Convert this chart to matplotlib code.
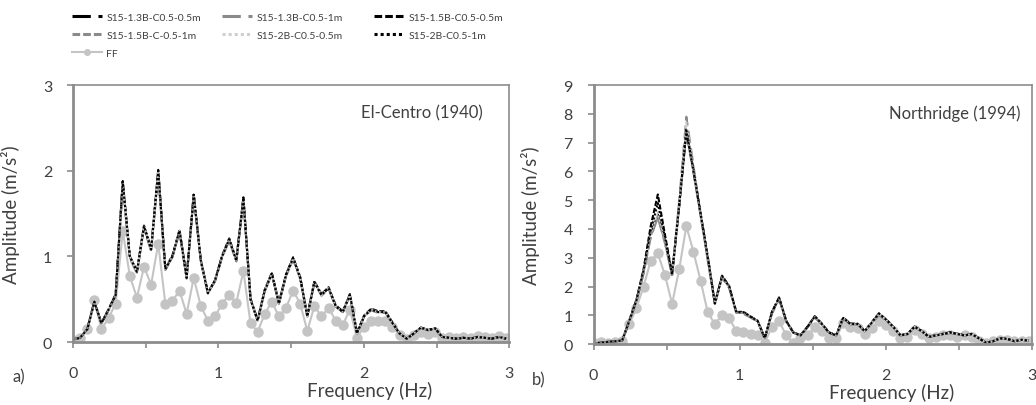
import numpy as np
import matplotlib
matplotlib.use("Agg")
import matplotlib.pyplot as plt
from matplotlib.lines import Line2D

plt.rcParams["font.family"] = ["Lato", "DejaVu Sans"]

# frequency step of the spectra (Hz), 62 samples from 0 to ~3 Hz
DF = 1 / 20.48
N = 62

SERIES = ["S15-1.3B-C0.5-0.5m", "S15-1.3B-C0.5-1m", "S15-1.5B-C0.5-0.5m",
          "S15-1.5B-C-0.5-1m", "S15-2B-C0.5-0.5m", "S15-2B-C0.5-1m"]

# El-Centro (1940)
ec_s1 = [0.03, 0.05, 0.15, 0.47, 0.22, 0.38, 0.55, 1.87, 1.00, 0.82, 1.35, 1.08, 2.00, 0.85,
         1.00, 1.30, 0.75, 1.72, 0.95, 0.57, 0.72, 1.00, 1.20, 0.95, 1.68, 0.50, 0.25, 0.60,
         0.80, 0.45, 0.78, 0.98, 0.75, 0.30, 0.70, 0.55, 0.63, 0.42, 0.35, 0.55, 0.10, 0.30,
         0.38, 0.35, 0.35, 0.22, 0.10, 0.04, 0.10, 0.17, 0.14, 0.16, 0.06, 0.05, 0.04, 0.05,
         0.04, 0.06, 0.05, 0.04, 0.06, 0.04]
ec_s2 = [0.03, 0.05, 0.15, 0.46, 0.22, 0.37, 0.55, 1.82, 0.98, 0.80, 1.33, 1.06, 1.95, 0.84,
         0.99, 1.28, 0.74, 1.70, 0.94, 0.57, 0.71, 0.99, 1.18, 0.94, 1.65, 0.50, 0.25, 0.59,
         0.79, 0.45, 0.77, 0.96, 0.74, 0.30, 0.69, 0.54, 0.62, 0.41, 0.35, 0.54, 0.10, 0.30,
         0.37, 0.34, 0.34, 0.22, 0.10, 0.04, 0.10, 0.16, 0.14, 0.15, 0.06, 0.05, 0.04, 0.05,
         0.04, 0.06, 0.05, 0.04, 0.06, 0.04]
ec_s3 = [0.03, 0.05, 0.15, 0.47, 0.22, 0.38, 0.56, 1.88, 1.00, 0.83, 1.36, 1.09, 2.01, 0.86,
         1.01, 1.31, 0.76, 1.73, 0.96, 0.58, 0.72, 1.01, 1.21, 0.96, 1.69, 0.51, 0.26, 0.61,
         0.81, 0.46, 0.79, 0.99, 0.76, 0.31, 0.71, 0.56, 0.64, 0.43, 0.36, 0.56, 0.11, 0.31,
         0.39, 0.36, 0.36, 0.23, 0.10, 0.04, 0.10, 0.17, 0.14, 0.16, 0.06, 0.05, 0.04, 0.05,
         0.04, 0.06, 0.05, 0.04, 0.06, 0.04]
ec_s4 = [0.03, 0.05, 0.15, 0.46, 0.22, 0.37, 0.55, 1.84, 0.99, 0.81, 1.34, 1.07, 1.97, 0.84,
         1.00, 1.29, 0.75, 1.71, 0.95, 0.57, 0.71, 1.00, 1.19, 0.95, 1.66, 0.50, 0.25, 0.60,
         0.80, 0.45, 0.77, 0.97, 0.75, 0.30, 0.70, 0.55, 0.63, 0.42, 0.35, 0.55, 0.10, 0.30,
         0.38, 0.35, 0.35, 0.22, 0.10, 0.04, 0.10, 0.17, 0.14, 0.16, 0.06, 0.05, 0.04, 0.05,
         0.04, 0.06, 0.05, 0.04, 0.06, 0.04]
ec_s5 = [0.03, 0.05, 0.15, 0.47, 0.22, 0.38, 0.56, 1.86, 1.00, 0.82, 1.35, 1.08, 1.99, 0.85,
         1.00, 1.30, 0.75, 1.72, 0.95, 0.57, 0.72, 1.00, 1.20, 0.95, 1.67, 0.50, 0.25, 0.60,
         0.80, 0.45, 0.78, 0.98, 0.75, 0.30, 0.70, 0.55, 0.63, 0.42, 0.35, 0.55, 0.10, 0.30,
         0.38, 0.35, 0.35, 0.22, 0.10, 0.04, 0.10, 0.17, 0.14, 0.16, 0.06, 0.05, 0.04, 0.05,
         0.04, 0.06, 0.05, 0.04, 0.06, 0.04]
ec_s6 = [0.03, 0.05, 0.15, 0.47, 0.22, 0.38, 0.55, 1.87, 1.00, 0.82, 1.35, 1.08, 2.00, 0.85,
         1.00, 1.30, 0.75, 1.72, 0.95, 0.57, 0.72, 1.00, 1.20, 0.95, 1.68, 0.50, 0.25, 0.60,
         0.80, 0.45, 0.78, 0.98, 0.75, 0.30, 0.70, 0.55, 0.63, 0.42, 0.35, 0.55, 0.10, 0.30,
         0.38, 0.35, 0.35, 0.22, 0.10, 0.04, 0.10, 0.17, 0.14, 0.16, 0.06, 0.05, 0.04, 0.05,
         0.04, 0.06, 0.05, 0.04, 0.06, 0.04]
ec_ff = [0.03, 0.05, 0.15, 0.49, 0.15, 0.28, 0.45, 1.30, 0.77, 0.52, 0.88, 0.67, 1.15, 0.45,
         0.48, 0.60, 0.33, 0.75, 0.42, 0.25, 0.30, 0.45, 0.55, 0.46, 0.83, 0.22, 0.12, 0.33,
         0.47, 0.30, 0.40, 0.60, 0.45, 0.13, 0.42, 0.30, 0.40, 0.25, 0.20, 0.38, 0.05, 0.18,
         0.25, 0.25, 0.25, 0.18, 0.08, 0.04, 0.08, 0.12, 0.10, 0.12, 0.05, 0.06, 0.05, 0.06,
         0.05, 0.07, 0.06, 0.05, 0.07, 0.05]

# Northridge (1994)
nr_s1 = [0.02, 0.05, 0.08, 0.10, 0.12, 0.80, 1.50, 2.50, 3.80, 4.50, 3.60, 2.40, 4.80, 7.40,
         6.00, 4.50, 3.00, 1.40, 2.35, 2.00, 1.10, 1.10, 0.95, 0.80, 0.20, 1.10, 1.60, 0.80,
         0.40, 0.30, 0.60, 0.95, 0.70, 0.40, 0.30, 0.90, 0.70, 0.70, 0.45, 0.75, 1.05, 0.85,
         0.60, 0.30, 0.35, 0.60, 0.45, 0.25, 0.30, 0.35, 0.40, 0.35, 0.30, 0.35, 0.20, 0.05,
         0.10, 0.20, 0.18, 0.10, 0.15, 0.12]
nr_s2 = [0.02, 0.05, 0.08, 0.10, 0.12, 0.80, 1.45, 2.45, 3.70, 4.40, 3.50, 2.40, 5.00, 7.90,
         6.20, 4.50, 2.90, 1.40, 2.30, 1.95, 1.10, 1.05, 0.92, 0.78, 0.20, 1.05, 1.55, 0.78,
         0.40, 0.30, 0.58, 0.92, 0.68, 0.40, 0.30, 0.88, 0.68, 0.68, 0.44, 0.72, 1.00, 0.82,
         0.58, 0.30, 0.34, 0.58, 0.44, 0.25, 0.30, 0.34, 0.38, 0.34, 0.30, 0.34, 0.20, 0.05,
         0.10, 0.20, 0.17, 0.10, 0.15, 0.12]
nr_s3 = [0.02, 0.05, 0.08, 0.10, 0.12, 0.82, 1.55, 2.60, 4.10, 5.20, 3.80, 2.45, 4.85, 7.45,
         6.05, 4.55, 3.05, 1.42, 2.38, 2.02, 1.12, 1.12, 0.96, 0.81, 0.21, 1.12, 1.62, 0.81,
         0.41, 0.31, 0.61, 0.97, 0.71, 0.41, 0.31, 0.92, 0.71, 0.71, 0.46, 0.76, 1.07, 0.86,
         0.61, 0.31, 0.36, 0.61, 0.46, 0.26, 0.31, 0.36, 0.41, 0.36, 0.31, 0.36, 0.21, 0.05,
         0.10, 0.21, 0.18, 0.10, 0.15, 0.12]
nr_s4 = [0.02, 0.05, 0.08, 0.10, 0.12, 0.80, 1.48, 2.48, 3.75, 4.45, 3.55, 2.40, 4.80, 7.35,
         5.95, 4.45, 2.95, 1.40, 2.32, 1.98, 1.10, 1.08, 0.94, 0.79, 0.20, 1.08, 1.58, 0.79,
         0.40, 0.30, 0.59, 0.94, 0.69, 0.40, 0.30, 0.89, 0.69, 0.69, 0.45, 0.74, 1.03, 0.84,
         0.59, 0.30, 0.35, 0.59, 0.45, 0.25, 0.30, 0.35, 0.39, 0.35, 0.30, 0.35, 0.20, 0.05,
         0.10, 0.20, 0.18, 0.10, 0.15, 0.12]
nr_s5 = [0.02, 0.05, 0.08, 0.10, 0.12, 0.80, 1.50, 2.50, 3.85, 4.60, 3.60, 2.40, 4.90, 7.70,
         6.10, 4.50, 3.00, 1.40, 2.35, 2.00, 1.10, 1.10, 0.95, 0.80, 0.20, 1.10, 1.60, 0.80,
         0.40, 0.30, 0.60, 0.95, 0.70, 0.40, 0.30, 0.90, 0.70, 0.70, 0.45, 0.75, 1.05, 0.85,
         0.60, 0.30, 0.35, 0.60, 0.45, 0.25, 0.30, 0.35, 0.40, 0.35, 0.30, 0.35, 0.20, 0.05,
         0.10, 0.20, 0.18, 0.10, 0.15, 0.12]
nr_s6 = [0.02, 0.05, 0.08, 0.10, 0.12, 0.81, 1.52, 2.55, 3.95, 4.90, 3.70, 2.42, 4.82, 7.42,
         6.02, 4.52, 3.02, 1.41, 2.36, 2.01, 1.11, 1.11, 0.95, 0.80, 0.20, 1.11, 1.61, 0.80,
         0.40, 0.30, 0.60, 0.96, 0.70, 0.40, 0.30, 0.91, 0.70, 0.70, 0.45, 0.75, 1.06, 0.85,
         0.60, 0.30, 0.35, 0.60, 0.45, 0.25, 0.30, 0.35, 0.40, 0.35, 0.30, 0.35, 0.20, 0.05,
         0.10, 0.20, 0.18, 0.10, 0.15, 0.12]
nr_ff = [0.05, 0.06, 0.05, 0.08, 0.10, 0.70, 1.25, 2.00, 2.90, 3.15, 2.40, 1.40, 2.60, 4.10,
         3.20, 2.20, 1.10, 0.70, 1.00, 0.90, 0.45, 0.42, 0.35, 0.30, 0.05, 0.60, 0.80, 0.30,
         0.05, 0.20, 0.30, 0.60, 0.45, 0.20, 0.20, 0.75, 0.60, 0.55, 0.35, 0.55, 0.80, 0.65,
         0.45, 0.20, 0.25, 0.50, 0.35, 0.20, 0.25, 0.30, 0.30, 0.25, 0.30, 0.25, 0.10, 0.05,
         0.10, 0.15, 0.15, 0.10, 0.12, 0.10]

freq = np.arange(N) * DF

STYLES = [
    dict(color="black", ls=(0, (6, 2.5)), lw=1.5),
    dict(color="#8a8a8a", ls=(0, (6, 2.5)), lw=1.5),
    dict(color="black", ls=(0, (2.5, 1)), lw=1.5),
    dict(color="#8a8a8a", ls=(0, (2.5, 1)), lw=1.5),
    dict(color="#cfcfcf", ls=(0, (1, 1)), lw=1.5),
    dict(color="black", ls=(0, (1, 1)), lw=1.5),
]
FF_STYLE = dict(color="#c4c4c4", lw=1.5, marker="o", ms=6.5, mec="#c4c4c4", mfc="#c4c4c4")
TXT = "#404040"
SPINE = "#8c8c8c"

fig = plt.figure(figsize=(10.36, 4.06), dpi=100)
ax1 = fig.add_axes([0.0705, 0.155, 0.421, 0.633])
ax2 = fig.add_axes([0.573, 0.150, 0.423, 0.638])

panels = [
    (ax1, [ec_s1, ec_s2, ec_s3, ec_s4, ec_s5, ec_s6], ec_ff, 3, "El-Centro (1940)", "a)", 0.94),
    (ax2, [nr_s1, nr_s2, nr_s3, nr_s4, nr_s5, nr_s6], nr_ff, 9, "Northridge (1994)", "b)", 0.973),
]
for ax, series, ff, ymax, title, tag, tx in panels:
    ax.plot(freq, ff, zorder=1, **FF_STYLE)
    for vals, st in zip(series, STYLES):
        ax.plot(freq, vals, zorder=2, **st)
    ax.set_xlim(0, 3)
    ax.set_ylim(0, ymax)
    ax.set_xticks(np.arange(0, 3.01, 0.5))
    ax.set_xticklabels(["0", "", "1", "", "2", "", "3"])
    ax.set_yticks(np.arange(0, ymax + 1, 1))
    ax.tick_params(axis="x", length=4, width=1.2, color=SPINE, pad=13,
                   labelsize=11.5, labelcolor=TXT)
    ax.tick_params(axis="y", length=4, width=1.2, color=SPINE, pad=11,
                   labelsize=11.5, labelcolor=TXT)
    for side, sp in ax.spines.items():
        sp.set_color(SPINE)
        sp.set_linewidth(2.0 if side in ("left", "bottom") else 1.2)
    ax.set_xlabel("Frequency (Hz)", fontsize=13.5, color=TXT)
    ax.xaxis.set_label_coords(0.68, -0.15)
    ax.set_ylabel("Amplitude (m/s²)", fontsize=13.5, color=TXT)
    ax.yaxis.set_label_coords(-0.122, 0.5)
    ax.text(tx, 0.895, title, transform=ax.transAxes, ha="right", va="center",
            fontsize=12, color=TXT)
    ax.text(-0.125, -0.135, tag, transform=ax.transAxes, ha="center", va="center",
            fontsize=12, color=TXT)

# legend: three columns placed like the original
handles = [Line2D([], [], **dict(st, lw=2.2)) for st in STYLES]
ff_handle = Line2D([], [], **dict(FF_STYLE, ms=4))
cols = [
    ([handles[0], handles[3], ff_handle], [SERIES[0], SERIES[3], "FF"], 0.062),
    ([handles[1], handles[4]], [SERIES[1], SERIES[4]], 0.207),
    ([handles[2], handles[5]], [SERIES[2], SERIES[5]], 0.354),
]
for hs, labels, x in cols:
    fig.legend(hs, labels, loc="upper left", bbox_to_anchor=(x, 0.985), frameon=False,
               fontsize=7.5, labelcolor=TXT, handlelength=2.9, handletextpad=0.45,
               labelspacing=0.85, borderaxespad=0.3)

fig.savefig("out.png", dpi=100)
